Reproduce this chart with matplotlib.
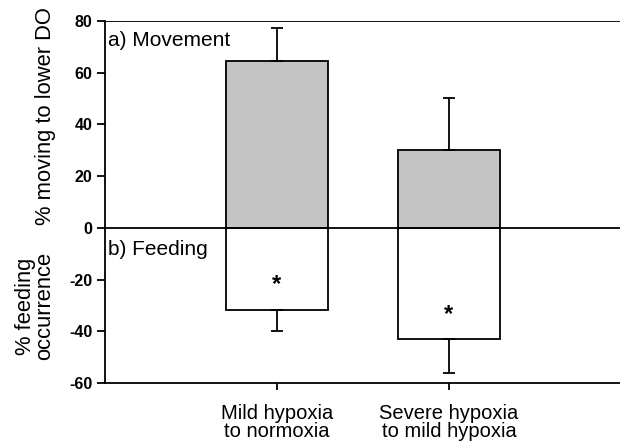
import matplotlib
matplotlib.use("Agg")
import matplotlib.pyplot as plt

plt.rcParams['font.family'] = ['Liberation Sans', 'DejaVu Sans']

categories = ["Mild hypoxia\nto normoxia", "Severe hypoxia\nto mild hypoxia"]
movement = [64.7, 30.1]
movement_err = [12.6, 20.0]
feeding = [-31.7, -42.8]
feeding_err = [8.1, 13.4]
star_y = [-22.0, -33.5]
yticks = [-60, -40, -20, 0, 20, 40, 60, 80]

fig = plt.figure(figsize=(6.2, 4.43), dpi=100)
ax = fig.add_axes([0.1694, 0.1354, 0.832, 0.8172])

x = list(range(len(categories)))
w = 0.59
lw = 1.3
ax.bar(x, movement, width=w, color='#c4c4c4', edgecolor='black', linewidth=lw, zorder=2)
ax.bar(x, feeding, width=w, color='white', edgecolor='black', linewidth=lw, zorder=2)
ax.errorbar(x, movement, yerr=[[0]*len(x), movement_err], fmt='none', ecolor='black',
            elinewidth=lw, capsize=4.3, capthick=lw, zorder=3)
ax.errorbar(x, feeding, yerr=[feeding_err, [0]*len(x)], fmt='none', ecolor='black',
            elinewidth=lw, capsize=4.3, capthick=lw, zorder=3)
for xi, sy in zip(x, star_y):
    ax.text(xi, sy, '*', ha='center', va='center', fontsize=17, fontweight='bold')

ax.axhline(0, color='black', linewidth=lw, zorder=4)
ax.axhline(80, color='black', linewidth=lw, zorder=4)
ax.set_xlim(-1, 2)
ax.set_ylim(-60, 80)
ax.set_yticks(yticks)
ax.set_yticklabels([str(t) for t in yticks], fontweight='bold', fontsize=11.5)
ax.set_xticks(x)
ax.set_xticklabels(categories, fontsize=14.5, linespacing=0.92)
ax.spines['right'].set_visible(False)
ax.spines['top'].set_visible(False)
for s in ['left', 'bottom']:
    ax.spines[s].set_linewidth(lw)
ax.tick_params(axis='y', direction='out', length=6, width=lw, pad=3)
ax.tick_params(axis='x', direction='out', length=5, width=lw, pad=10)

ax.text(-0.985, 72.5, 'a) Movement', fontsize=15, ha='left', va='center')
ax.text(-0.985, -8.5, 'b) Feeding', fontsize=15, ha='left', va='center')

fig.text(46/620, 1-116/443, '% moving to lower DO', rotation=90, ha='center', va='center', fontsize=15.8)
fig.text(35/620, 1-306/443, '% feeding\noccurrence', rotation=90, ha='center', va='center',
         fontsize=15.8, linespacing=0.9)

fig.savefig('out.png', dpi=100)
